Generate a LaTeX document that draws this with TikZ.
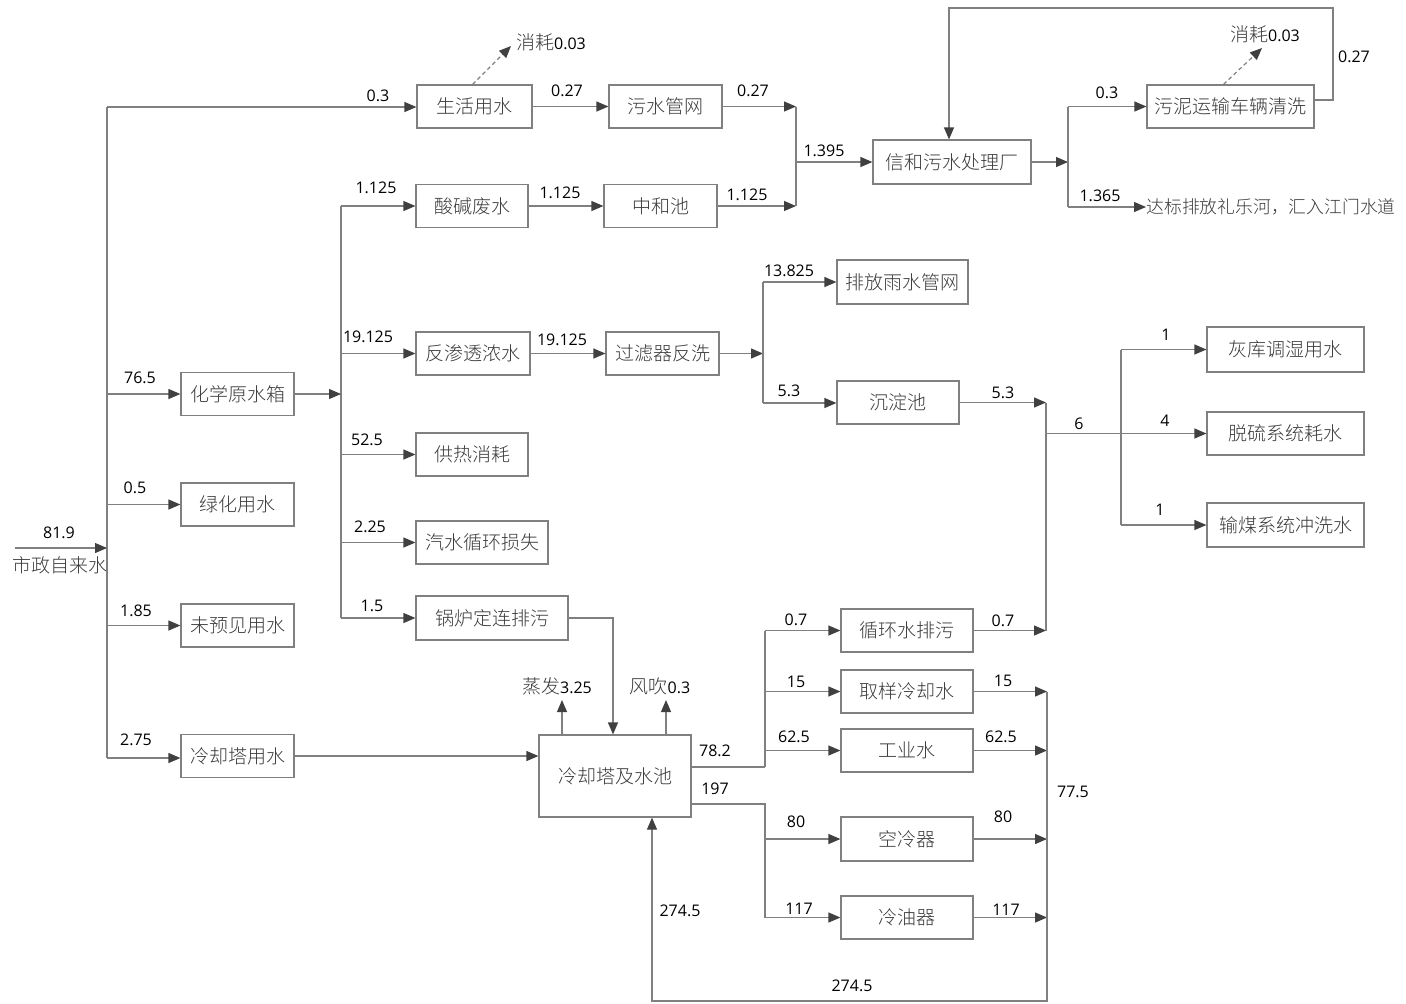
\documentclass[tikz,border=0pt]{standalone}
\usepackage{fontspec}
\usetikzlibrary{arrows.meta,calc}
\newfontfamily\cjk{Noto Sans CJK SC Light}
\newfontfamily\numf{Open Sans}
\definecolor{linec}{HTML}{808080}
\definecolor{tipc}{HTML}{404040}
\definecolor{txtc}{HTML}{3A3A3A}
\tikzset{
  ln/.style={draw=linec, line width=0.6pt},
  arr/.style={ln, -{Triangle[length=6pt,width=5pt,color=tipc]}},
  darr/.style={ln, dashed, dash pattern=on 2pt off 1.5pt, -{Triangle[length=6pt,width=5pt,color=tipc]}},
  box/.style={draw=linec, line width=0.6pt, fill=white, inner sep=0pt, minimum height=21.5pt,
     font=\cjk\fontsize{9.5}{11}\selectfont, text=txtc},
  ctxt/.style={inner sep=0pt, font=\cjk\fontsize{9.5}{11}\selectfont, text=txtc},
  lab/.style={inner sep=0pt, font=\numf\fontsize{8}{9.6}\selectfont, text=black},
}
\begin{document}
\begin{tikzpicture}[x=0.5pt,y=-0.5pt]
\useasboundingbox (0,0) rectangle (1406,1003);

% ---------- boxes ----------
\node[box, minimum width=57.5pt] (life)   at (474.5,106.5) {生活用水};
\node[box, minimum width=56.5pt] (sewer)  at (665.5,106.5) {污水管网};
\node[box, minimum width=56pt]   (acid)   at (472,206) {酸碱废水};
\node[box, minimum width=56.5pt] (neut)   at (660.5,206) {中和池};
\node[box, minimum width=79pt, minimum height=22pt] (xinhe) at (952,162) {信和污水处理厂};
\node[box, minimum width=83.5pt] (sludge) at (1230.5,106.5) {污泥运输车辆清洗};
\node[box, minimum width=65.5pt, minimum height=22pt] (rain) at (902.5,282) {排放雨水管网};
\node[box, minimum width=57pt]   (ro)     at (473,353.5) {反渗透浓水};
\node[box, minimum width=56.5pt] (filt)   at (662.5,353.5) {过滤器反洗};
\node[box, minimum width=61pt]   (sed)    at (898,402.5) {沉淀池};
\node[box, minimum width=56.5pt] (chem)   at (237.5,394) {化学原水箱};
\node[box, minimum width=56pt]   (heat)   at (472,454.5) {供热消耗};
\node[box, minimum width=56.5pt] (green)  at (237.5,504.5) {绿化用水};
\node[box, minimum width=66pt]   (steam)  at (482,542.5) {汽水循环损失};
\node[box, minimum width=56.5pt] (unf)    at (237.5,625.5) {未预见用水};
\node[box, minimum width=76pt, minimum height=22pt] (boiler) at (492,618) {锅炉定连排污};
\node[box, minimum width=78.5pt, minimum height=22.5pt] (ash)    at (1285.5,349.5) {灰库调湿用水};
\node[box, minimum width=78.5pt] (desulf) at (1285.5,433.5) {脱硫系统耗水};
\node[box, minimum width=78.5pt, minimum height=22pt] (coal)   at (1285.5,525) {输煤系统冲洗水};
\node[box, minimum width=66pt]   (circ)   at (907,630.5) {循环水排污};
\node[box, minimum width=66pt]   (sample) at (907,691.5) {取样冷却水};
\node[box, minimum width=66pt]   (ind)    at (907,750.5) {工业水};
\node[box, minimum width=56.5pt] (ctw)    at (237.5,756) {冷却塔用水};
\node[box, minimum width=76pt, minimum height=41pt] (tower) at (615,776) {冷却塔及水池};
\node[box, minimum width=66pt, minimum height=22pt] (air)    at (907,839) {空冷器};
\node[box, minimum width=66pt]   (oil)    at (907,917.5) {冷油器};

% ---------- free texts ----------
\node[ctxt] (src) at (60,565) {市政自来水};
\node[ctxt, anchor=west, font=\cjk\fontsize{8.9}{11}\selectfont] (dis) at (1146,207) {达标排放礼乐河，汇入江门水道};
\node[ctxt] (c1) at (551,42) {消耗{\numf\fontsize{8}{9.6}\selectfont\color{black}0.03}};
\node[ctxt] (c2) at (1265,34) {消耗{\numf\fontsize{8}{9.6}\selectfont\color{black}0.03}};
\node[ctxt] (evt) at (557,686) {蒸发{\numf\fontsize{8}{9.6}\selectfont\color{black}3.25}};
\node[ctxt] (wdt) at (660,686) {风吹{\numf\fontsize{8}{9.6}\selectfont\color{black}0.3}};

% ---------- junction coordinates ----------
\coordinate (in)   at (15,548);
\coordinate (jL1)  at (107,107);
\coordinate (jL2)  at (107,758);
\coordinate (jCt)  at (341,206);
\coordinate (jCb)  at (341,618);
\coordinate (jS1)  at (796,106.5);
\coordinate (jS2)  at (796,206);
\coordinate (jX1)  at (1068,106.5);
\coordinate (jX2)  at (1068,207);
\coordinate (fb1)  at (1333,100);
\coordinate (fb2)  at (1333,8);
\coordinate (fb3)  at (949,8);
\coordinate (c1e)  at (511,46);
\coordinate (c2e)  at (1262,48);
\coordinate (jF1)  at (763,282);
\coordinate (jF2)  at (763,403);
\coordinate (jM1)  at (1046,402.5);
\coordinate (jM2)  at (1046,630.5);
\coordinate (jM3)  at (1046,433.5);
\coordinate (jDt)  at (1121,349.5);
\coordinate (jDb)  at (1121,525);
\coordinate (jD)   at (1121,433.5);
\coordinate (bk)   at (613,618);
\coordinate (ev)   at (562,700);
\coordinate (wd)   at (666,700);
\coordinate (jT1)  at (765,767);
\coordinate (jTt)  at (765,630.5);
\coordinate (jT2)  at (765,804);
\coordinate (jTb)  at (765,917.5);
\coordinate (jR1)  at (1047,691.5);
\coordinate (jR2)  at (1047,1001);
\coordinate (jR3)  at (652,1001);

% ---------- left trunk ----------
\draw[ln] (jL1) -- (jL2);
\draw[arr] (in) -- (in -| jL1);
\draw[arr] (jL1) -- (jL1 -| life.west);
\draw[arr] (jL1 |- chem) -- (chem);
\draw[arr] (jL1 |- green) -- (green);
\draw[arr] (jL1 |- unf) -- (unf);
\draw[arr] (jL2) -- (jL2 -| ctw.west);

% ---------- chemical water branch ----------
\draw[ln] (jCt) -- (jCb);
\draw[arr] (chem) -- (chem -| jCt);
\draw[arr] (jCt) -- (acid);
\draw[arr] (jCt |- ro) -- (ro);
\draw[arr] (jCt |- heat) -- (heat);
\draw[arr] (jCt |- steam) -- (steam);
\draw[arr] (jCb) -- (boiler);

% ---------- sewage ----------
\draw[arr] (life) -- (sewer);
\draw[arr] (acid) -- (neut);
\draw[arr] (sewer) -- (jS1);
\draw[arr] (neut) -- (jS2);
\draw[ln] (jS1) -- (jS2);
\draw[arr] (jS1 |- xinhe) -- (xinhe);
\draw[arr] (xinhe) -- (xinhe -| jX1);
\draw[ln] (jX1) -- (jX2);
\draw[arr] (jX1) -- (sludge);
\draw[arr] (jX2) -- (dis.west);
\draw[arr] (sludge.east |- fb1) -- (fb1) -- (fb2) -- (fb3) -- (fb3 |- xinhe.north);
\draw[darr] ($(life.north)+(-2,0)$) -- (c1e);
\draw[darr] ($(sludge.north)+(-7,0)$) -- (c2e);

% ---------- RO / filter ----------
\draw[arr] (ro) -- (filt);
\draw[arr] (filt) -- (filt -| jF1);
\draw[ln] (jF1) -- (jF2);
\draw[arr] (jF1) -- (rain);
\draw[arr] (jF2) -- (jF2 -| sed.west);
\draw[arr] (sed) -- (jM1);
\draw[arr] (circ) -- (jM2);
\draw[ln] (jM1) -- (jM2);
\draw[ln] (jM3) -- (jD);
\draw[ln] (jDt) -- (jDb);
\draw[arr] (jDt) -- (ash);
\draw[arr] (jD) -- (desulf);
\draw[arr] (jDb) -- (coal);

% ---------- cooling tower ----------
\draw[arr] (ctw) -- (ctw -| tower.west);
\draw[arr] (boiler) -- (bk) -- (bk |- tower.north);
\draw[arr] (ev |- tower.north) -- (ev);
\draw[arr] (wd |- tower.north) -- (wd);
\draw[ln] (tower.east |- jT1) -- (jT1);
\draw[ln] (jTt) -- (jT1);
\draw[arr] (jTt) -- (circ);
\draw[arr] (jTt |- sample) -- (sample);
\draw[arr] (jTt |- ind) -- (ind);
\draw[ln] (tower.east |- jT2) -- (jT2) -- (jTb);
\draw[arr] (jT2 |- air) -- (air);
\draw[arr] (jTb) -- (oil);
\draw[arr] (sample) -- (jR1);
\draw[arr] (ind) -- (ind -| jR1);
\draw[arr] (air) -- (air -| jR1);
\draw[arr] (oil) -- (oil -| jR1);
\draw[arr] (jR1) -- (jR2) -- (jR3) -- (jR3 |- tower.south);

% ---------- number labels ----------
\node[lab] (n01) at (59,533) {81.9};
\node[lab] (n02) at (378,96) {0.3};
\node[lab] (n03) at (140,378) {76.5};
\node[lab] (n04) at (135,488) {0.5};
\node[lab] (n05) at (136,611) {1.85};
\node[lab] (n06) at (136,740) {2.75};
\node[lab] (n07) at (376,188) {1.125};
\node[lab] (n08) at (368,337) {19.125};
\node[lab] (n09) at (367,440) {52.5};
\node[lab] (n10) at (370,527) {2.25};
\node[lab] (n11) at (372,606) {1.5};
\node[lab] (n12) at (567,91) {0.27};
\node[lab] (n13) at (753,91) {0.27};
\node[lab] (n14) at (560,193) {1.125};
\node[lab] (n15) at (747,195) {1.125};
\node[lab] (n16) at (824,151) {1.395};
\node[lab] (n17) at (1107,93) {0.3};
\node[lab] (n18) at (1100,196) {1.365};
\node[lab] (n19) at (1354,57) {0.27};
\node[lab] (n20) at (562,340) {19.125};
\node[lab] (n21) at (789,271) {13.825};
\node[lab] (n22) at (789,391) {5.3};
\node[lab] (n23) at (1003,393) {5.3};
\node[lab] (n24) at (1003,621) {0.7};
\node[lab] (n25) at (1079,424) {6};
\node[lab] (n26) at (1166,335) {1};
\node[lab] (n27) at (1165,421) {4};
\node[lab] (n28) at (1160,510) {1};
\node[lab] (n29) at (715,751) {78.2};
\node[lab] (n30) at (796,620) {0.7};
\node[lab] (n31) at (796,682) {15};
\node[lab] (n32) at (794,737) {62.5};
\node[lab] (n33) at (715,789) {197};
\node[lab] (n34) at (796,822) {80};
\node[lab] (n35) at (799,909) {117};
\node[lab] (n36) at (1003,681) {15};
\node[lab] (n37) at (1001,737) {62.5};
\node[lab] (n38) at (1003,817) {80};
\node[lab] (n39) at (1006,910) {117};
\node[lab] (n40) at (680,911) {274.5};
\node[lab] (n41) at (852,986) {274.5};
\node[lab] (n42) at (1073,792) {77.5};
\end{tikzpicture}
\end{document}
